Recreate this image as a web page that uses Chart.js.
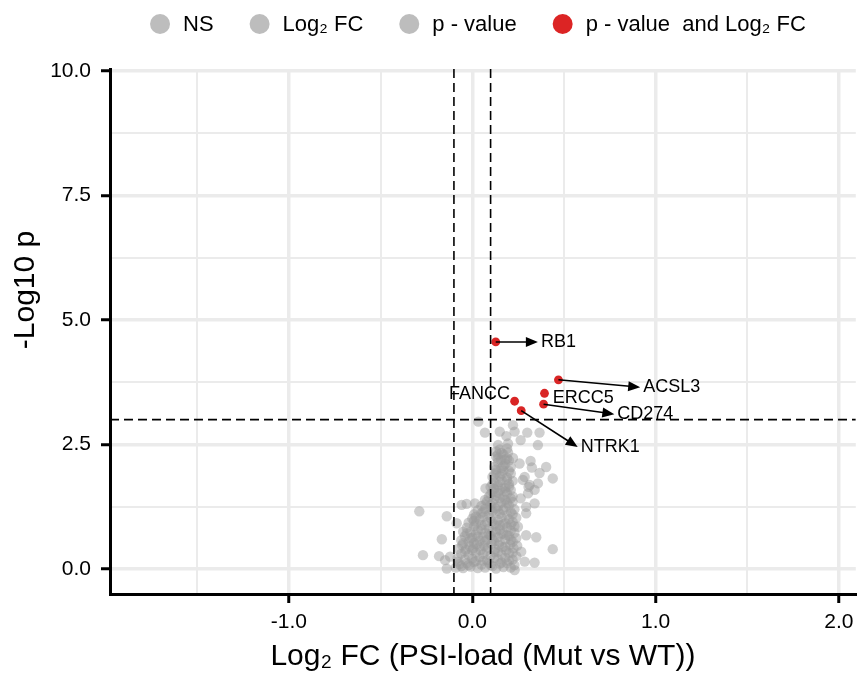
<!DOCTYPE html>
<html>
<head>
<meta charset="utf-8">
<script src="https://cdn.jsdelivr.net/npm/chart.js@4.4.0/dist/chart.umd.min.js"></script>
<style>
  body { margin: 0; background: #fff; }
</style>
</head>
<body>
<canvas id="volcano" width="861" height="675"></canvas>
<script>
'use strict';

// Data

// grey cloud: [log2 FC, -log10 p]
let greyPoints = [
  [-0.09, 0.03], [-0.07, 0.10], [-0.05, 0.02], [-0.03, 0.12], [-0.01, 0.05], [0.01, 0.14], [0.03, 0.02], [0.05, 0.09],
  [0.07, 0.03], [0.09, 0.13], [0.11, 0.06], [0.13, 0.01], [0.15, 0.11], [0.17, 0.04], [0.19, 0.12], [0.21, 0.03], [0.23, 0.08],
  [-0.08, 0.22], [-0.06, 0.31], [-0.04, 0.19], [-0.02, 0.28], [0.00, 0.21], [0.02, 0.33], [0.04, 0.24], [0.06, 0.30],
  [0.08, 0.18], [0.10, 0.27], [0.12, 0.34], [0.14, 0.20], [0.16, 0.29], [0.18, 0.23], [0.20, 0.32], [0.22, 0.19], [0.24, 0.26],
  [-0.075, 0.41], [-0.055, 0.48], [-0.035, 0.39], [-0.015, 0.46], [0.005, 0.42], [0.025, 0.50], [0.045, 0.38], [0.065, 0.47],
  [0.085, 0.43], [0.105, 0.51], [0.125, 0.40], [0.145, 0.48], [0.165, 0.44], [0.185, 0.37], [0.205, 0.49], [0.225, 0.42], [0.245, 0.47],
  [-0.06, 0.58], [-0.04, 0.66], [-0.02, 0.55], [0.00, 0.63], [0.02, 0.70], [0.04, 0.57], [0.06, 0.65], [0.08, 0.59],
  [0.10, 0.68], [0.12, 0.56], [0.14, 0.64], [0.16, 0.71], [0.18, 0.60], [0.20, 0.67], [0.22, 0.55], [0.24, 0.62],
  [-0.05, 0.75], [-0.03, 0.83], [-0.01, 0.74], [0.01, 0.86], [0.03, 0.78], [0.05, 0.88], [0.07, 0.73], [0.09, 0.81],
  [0.11, 0.76], [0.13, 0.87], [0.15, 0.79], [0.17, 0.72], [0.19, 0.84], [0.21, 0.77], [0.23, 0.86],
  [-0.02, 0.93], [0.00, 1.01], [0.02, 0.91], [0.04, 0.99], [0.06, 1.05], [0.08, 0.94], [0.10, 1.02], [0.12, 0.90],
  [0.14, 0.98], [0.16, 1.04], [0.18, 0.92], [0.20, 1.00], [0.22, 0.95], [0.24, 1.03],
  [0.01, 1.10], [0.03, 1.18], [0.05, 1.12], [0.07, 1.21], [0.09, 1.09], [0.11, 1.16], [0.13, 1.22], [0.15, 1.11],
  [0.17, 1.19], [0.19, 1.08], [0.21, 1.15], [0.23, 1.20],
  [0.05, 1.27], [0.08, 1.36], [0.10, 1.29], [0.12, 1.40], [0.14, 1.26], [0.16, 1.34], [0.18, 1.39], [0.20, 1.28], [0.22, 1.35],
  [0.09, 1.45], [0.11, 1.55], [0.13, 1.47], [0.15, 1.58], [0.17, 1.44], [0.19, 1.52], [0.21, 1.59], [0.22, 1.46],
  [0.10, 1.65], [0.12, 1.74], [0.14, 1.68], [0.16, 1.79], [0.18, 1.63], [0.20, 1.71], [0.22, 1.77],
  [0.11, 1.85], [0.13, 1.94], [0.15, 1.87], [0.17, 1.98], [0.19, 1.84], [0.21, 1.92],
  [0.12, 2.05], [0.14, 2.14], [0.16, 2.03], [0.18, 2.11], [0.20, 2.18],
  [0.13, 2.26], [0.17, 2.30], [0.15, 2.40], [0.19, 2.22],
  // second pass through the dense part
  [-0.08, 0.15], [-0.06, 0.06], [-0.04, 0.35], [-0.02, 0.08], [0.00, 0.38], [0.02, 0.16], [0.04, 0.45], [0.06, 0.17],
  [0.08, 0.37], [0.10, 0.08], [0.12, 0.22], [0.14, 0.35], [0.16, 0.13], [0.18, 0.45], [0.20, 0.17], [0.22, 0.33],
  [-0.05, 0.52], [-0.03, 0.72], [-0.01, 0.62], [0.01, 0.52], [0.03, 0.65], [0.05, 0.80], [0.07, 0.56], [0.09, 0.70],
  [0.11, 0.60], [0.13, 0.75], [0.15, 0.55], [0.17, 0.90], [0.19, 0.68], [0.21, 0.59], [0.23, 0.73],
  [0.01, 0.97], [0.07, 0.89], [0.11, 0.96], [0.15, 0.88], [0.21, 0.89],
  [0.02, 1.05], [0.06, 1.15], [0.10, 1.20], [0.14, 1.17], [0.18, 1.24], [0.22, 1.10], [0.07, 1.30], [0.11, 1.33],
  [0.15, 1.42], [0.19, 1.33], [0.21, 1.42], [0.10, 1.50], [0.14, 1.53], [0.18, 1.56], [0.12, 1.61], [0.16, 1.62], [0.20, 1.65],
  [0.11, 1.70], [0.15, 1.75], [0.19, 1.78], [0.12, 1.90], [0.16, 1.92], [0.20, 1.97], [0.13, 2.00], [0.17, 2.07],
  [0.21, 2.05], [0.14, 2.22], [0.18, 2.20], [0.16, 2.33], [0.19, 2.42], [0.14, 2.30],
  // scattered ones
  [0.033, 2.96], [0.069, 2.74], [0.150, 2.76], [0.186, 2.67], [0.222, 2.89], [0.231, 2.76], [0.300, 2.74], [0.367, 2.74],
  [0.264, 2.59], [0.358, 2.49], [0.141, 2.49], [0.195, 2.52], [0.130, 2.36], [0.195, 2.34], [0.222, 2.23], [0.157, 2.19],
  [0.258, 2.12], [0.318, 2.17], [0.325, 2.04], [0.403, 2.05], [0.367, 1.93], [0.286, 1.85], [0.439, 1.82], [0.313, 1.69],
  [-0.139, 1.06], [-0.166, 0.60], [-0.058, 1.29], [-0.031, 1.31], [0.015, 1.32], [0.069, 1.39], [-0.085, 0.92],
  [-0.121, 0.25], [-0.148, 0.18], [-0.139, 0.01], [0.294, 0.68], [0.349, 0.64], [0.267, 0.35], [0.286, 0.15],
  [0.340, 0.13], [0.439, 0.40], [0.231, -0.02], [0.264, 1.42], [0.304, 1.52], [0.340, 1.32], [0.294, 1.12], [0.249, 0.85],
  [-0.289, 1.16], [-0.269, 0.28], [-0.181, 0.26], [0.072, 1.62], [0.294, 1.25], [0.307, 1.65], [0.276, 1.79],
  [0.358, 1.72], [0.340, 1.59]
];

// significant genes
let genes = ['RB1', 'ACSL3', 'ERCC5', 'CD274', 'FANCC', 'NTRK1'];
let geneFC = [0.128, 0.470, 0.394, 0.389, 0.231, 0.267];
let geneP = [4.56, 3.80, 3.53, 3.31, 3.37, 3.18];

// where each label sits (data units) and if it gets an arrow
let labelFC = [0.358, 0.916, 0.439, 0.775, 0.206, 0.575];
let labelP = [4.56, 3.65, 3.43, 3.11, 3.51, 2.45];
let labelArrow = [true, true, false, true, false, true];
let labelAlign = ['left', 'left', 'left', 'left', 'right', 'left'];

// cutoffs
let fcCutoff = [-0.1, 0.1];
let pCutoff = 3;

// axes
let xTicks = [-1.5, -1, -0.5, 0, 0.5, 1, 1.5, 2];
let xLabels = [-1, 0, 1, 2];
let yTicks = [0, 1.25, 2.5, 3.75, 5, 6.25, 7.5, 8.75, 10];
let yLabels = [0, 2.5, 5, 7.5, 10];

let legendLabels = ['NS', 'Log\u2082 FC', 'p - value', 'p - value  and Log\u2082 FC'];
let legendColors = ['#bdbdbd', '#bdbdbd', '#bdbdbd', '#dc2424'];

const FONT = '"Liberation Sans", Arial, Helvetica, sans-serif';
Chart.defaults.font.family = FONT;
Chart.defaults.color = '#000';

// Plugins

// dashed cutoff lines, arrows and gene labels
const extras = {
  id: 'extras',
  afterDatasetsDraw(chart) {
    const {ctx, chartArea: area, scales: {x, y}} = chart;
    ctx.save();
    ctx.beginPath();
    ctx.rect(area.left, area.top, area.right - area.left, area.bottom - area.top);
    ctx.clip();

    ctx.strokeStyle = '#000';
    ctx.lineWidth = 1.6;
    ctx.setLineDash([9, 5]);
    fcCutoff.forEach(v => {
      ctx.beginPath();
      ctx.moveTo(x.getPixelForValue(v), area.top);
      ctx.lineTo(x.getPixelForValue(v), area.bottom);
      ctx.stroke();
    });
    ctx.beginPath();
    ctx.moveTo(area.left, y.getPixelForValue(pCutoff));
    ctx.lineTo(area.right, y.getPixelForValue(pCutoff));
    ctx.stroke();
    ctx.setLineDash([]);

    ctx.font = '18px ' + FONT;
    ctx.textBaseline = 'middle';
    for (let i = 0; i < genes.length; i++) {
      let px = x.getPixelForValue(geneFC[i]);
      let py = y.getPixelForValue(geneP[i]);
      let tx = x.getPixelForValue(labelFC[i]);
      let ty = y.getPixelForValue(labelP[i]);
      ctx.fillStyle = '#000';
      if (labelArrow[i]) {
        let ang = Math.atan2(ty - py, tx - px);
        ctx.lineWidth = 1.6;
        ctx.beginPath();
        ctx.moveTo(px, py);
        ctx.lineTo(tx - 8 * Math.cos(ang), ty - 8 * Math.sin(ang));
        ctx.stroke();
        ctx.beginPath();
        ctx.moveTo(tx, ty);
        ctx.lineTo(tx - 12 * Math.cos(ang) + 5 * Math.sin(ang), ty - 12 * Math.sin(ang) - 5 * Math.cos(ang));
        ctx.lineTo(tx - 12 * Math.cos(ang) - 5 * Math.sin(ang), ty - 12 * Math.sin(ang) + 5 * Math.cos(ang));
        ctx.closePath();
        ctx.fill();
        tx += 3;
      }
      ctx.textAlign = labelAlign[i];
      ctx.fillText(genes[i], tx, ty);
    }
    ctx.restore();
  },
  afterDraw(chart) {
    const {ctx, chartArea: area} = chart;
    ctx.save();

    // legend on top, centred over the panel
    ctx.font = '22px ' + FONT;
    ctx.textBaseline = 'middle';
    ctx.textAlign = 'left';
    let widths = legendLabels.map(t => ctx.measureText(t).width);
    let total = widths.reduce((a, w) => a + 33 + w, 0) + 36 * (widths.length - 1);
    let lx = (area.left + area.right) / 2 - 5 - total / 2;
    legendLabels.forEach((text, i) => {
      ctx.fillStyle = legendColors[i];
      ctx.beginPath();
      ctx.arc(lx + 10, 24, 10, 0, Math.PI * 2);
      ctx.fill();
      ctx.fillStyle = '#000';
      ctx.fillText(text, lx + 33, 25);
      lx += 33 + widths[i] + 36;
    });

    // y title
    ctx.translate(26, 290);
    ctx.rotate(-Math.PI / 2);
    ctx.font = '30px ' + FONT;
    ctx.textAlign = 'center';
    ctx.fillText('-Log10 p', 0, 0);
    ctx.restore();
  }
};

// Chart

let ctx = document.getElementById('volcano').getContext('2d');
const volcano = new Chart(ctx, {
  type: 'scatter',
  data: {
    datasets: [{
      label: 'p - value and Log2 FC',
      data: genes.map((g, i) => ({x: geneFC[i], y: geneP[i]})),
      backgroundColor: '#d92525',
      borderWidth: 0,
      pointRadius: 4.4,
      pointHoverRadius: 4.4
    },
    {
      label: 'NS',
      data: greyPoints.map(p => ({x: p[0], y: p[1]})),
      backgroundColor: 'rgba(155, 155, 155, 0.48)',
      borderWidth: 0,
      pointRadius: 5.2,
      pointHoverRadius: 5.2
    }]
  },
  options: {
    responsive: false,
    devicePixelRatio: 1,
    animation: false,
    events: [],
    layout: {
      padding: {top: 69, left: 0, right: 0, bottom: 0}
    },
    plugins: {
      legend: {display: false},
      tooltip: {enabled: false}
    },
    scales: {
      x: {
        type: 'linear',
        min: -1.976,
        max: 2.092,
        afterBuildTicks: s => { s.ticks = xTicks.map(v => ({value: v})); },
        afterFit: s => { s.height = 81; },
        ticks: {
          autoSkip: false,
          maxRotation: 0,
          padding: 7,
          font: {size: 21},
          callback: v => xLabels.includes(v) ? v.toFixed(1) : ''
        },
        grid: {
          color: '#ebebeb',
          lineWidth: c => xLabels.includes(c.tick.value) ? 3.5 : 2,
          tickColor: c => xLabels.includes(c.tick.value) ? '#000' : 'rgba(0,0,0,0)',
          tickLength: 9,
          tickWidth: 3
        },
        border: {display: true, color: '#000', width: 3},
        title: {
          display: true,
          text: 'Log\u2082 FC (PSI-load (Mut vs WT))',
          font: {size: 30},
          padding: {top: 0, bottom: 0}
        }
      },
      y: {
        type: 'linear',
        min: -0.5,
        max: 10.04,
        afterBuildTicks: s => { s.ticks = yTicks.map(v => ({value: v})); },
        afterFit: s => { s.width = 110; },
        ticks: {
          autoSkip: false,
          padding: 10,
          font: {size: 21},
          callback: v => yLabels.includes(v) ? v.toFixed(1) : ''
        },
        grid: {
          color: '#ebebeb',
          lineWidth: c => yLabels.includes(c.tick.value) ? 3.5 : 2,
          tickColor: c => yLabels.includes(c.tick.value) ? '#000' : 'rgba(0,0,0,0)',
          tickLength: 9,
          tickWidth: 3
        },
        border: {display: true, color: '#000', width: 3}
      }
    }
  },
  plugins: [extras]
});
</script>
</body>
</html>
